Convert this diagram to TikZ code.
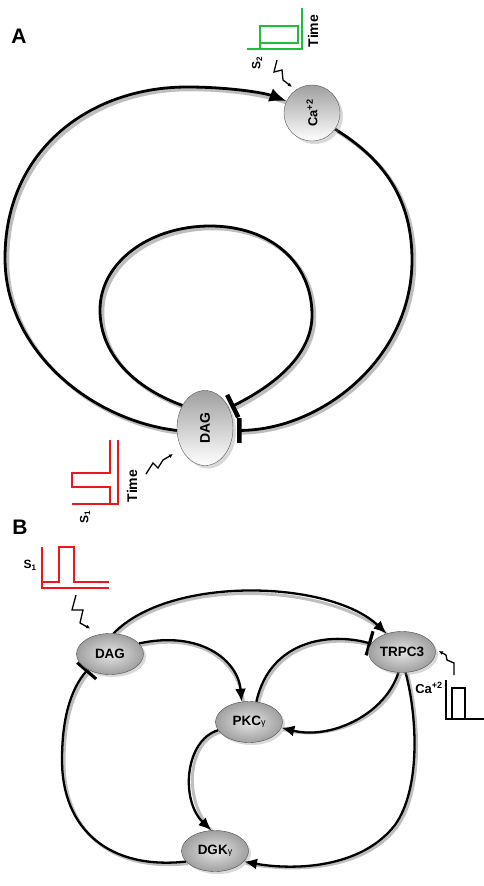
\documentclass[tikz,border=0pt]{standalone}
\usepackage{fontspec}
\setmainfont{Liberation Sans}
\usepackage{tikz}
\usetikzlibrary{shapes, arrows.meta, positioning, calc, shadows, backgrounds}
\definecolor{sigred}{RGB}{240, 20, 30}
\definecolor{siggreen}{RGB}{30, 190, 60}
\definecolor{shadowgray}{RGB}{190, 190, 190}

\begin{document}
\begin{tikzpicture}[x=1pt, y=1pt, font=\bfseries,
    loopA/.style={line width=2.8pt, preaction={draw=shadowgray, line width=3.5pt, -, transform canvas={shift={(2.5pt,-2.5pt)}}}},
    linkB/.style={line width=2.3pt, preaction={draw=shadowgray, line width=3pt, -, transform canvas={shift={(2pt,-2pt)}}}},
    actA/.style={-{Latex[length=17pt, width=14pt]}},
    inhA/.style={-{Bar[width=25pt, line width=4.5pt]}},
    actB/.style={-{Latex[length=13pt, width=11pt]}},
    inhB/.style={-{Bar[width=25pt, line width=3.2pt]}},
    nodeA/.style={draw=gray!70!black, thin, top color=gray!75, bottom color=white, inner sep=0pt,
      drop shadow={shadow xshift=3pt, shadow yshift=-3pt, opacity=0.3}},
    nodeB/.style={ellipse, draw=gray!60!black, thin, inner color=gray!20, outer color=gray!75,
      minimum width=67pt, minimum height=41pt, inner sep=0pt, font=\fontsize{13.5}{13.5}\selectfont\bfseries,
      drop shadow={shadow xshift=2.5pt, shadow yshift=-2.5pt, opacity=0.3}},
    zig/.style={line width=1.3pt, -{Latex[length=4pt, width=4pt]}},
    sigline/.style={line width=1.4pt},
    tag/.style={font=\fontsize{14}{14}\selectfont\bfseries, inner sep=0pt},
  ]
  \useasboundingbox (0,0) rectangle (484,-886);

  % ---------- panel A ----------
  \node[font=\fontsize{21}{21}\selectfont\bfseries] (labA) at (19,-36) {A};
  \node[nodeA, circle, minimum size=56pt] (caA) at (312,-113)
    {\rotatebox{90}{\fontsize{13}{13}\selectfont Ca\textsuperscript{+2}}};
  \node[nodeA, ellipse, minimum width=56pt, minimum height=75pt] (dagA) at (205,-428)
    {\rotatebox{90}{\fontsize{14}{14}\selectfont DAG}};

  \begin{scope}[on background layer]
    \draw[loopA, actA] (dagA.185) .. controls (90,-420) and (5,-350) .. (5,-258)
      .. controls (5,-150) and (90,-87) .. (187,-87)
      .. controls (230,-87) and (265,-93) .. (caA.155);
    \draw[loopA, inhA, shorten >=4pt] (caA.-35) .. controls (385,-160) and (412,-200) .. (412,-260)
      .. controls (412,-360) and (320,-430) .. (dagA.-5);
    \draw[loopA, inhA, shorten >=2pt] (dagA.135) .. controls (135,-388) and (100,-355) .. (100,-310)
      .. controls (100,-262) and (150,-226) .. (210,-226)
      .. controls (270,-226) and (312,-262) .. (312,-315)
      .. controls (312,-355) and (275,-385) .. (dagA.40);
  \end{scope}

  % stimulus S2
  \draw[siggreen, sigline] (247,-49) -- (302,-49) -- (302,-8);
  \draw[siggreen, sigline] (260,-49) -- (260,-26) -- (298,-26) -- (298,-43) -- (260,-43);
  \node[tag, rotate=90] (timeS2) at (313,-31) {Time};
  \node[tag, rotate=90, font=\fontsize{12}{12}\selectfont\bfseries] (lblS2) at (257,-63) {S\textsubscript{2}};
  \coordinate (s2A) at (277,-60);
  \draw[zig, shorten >=5pt] (s2A) -- ++(-3,-12) -- ++(8,2) -- ++(1,-10) -- (caA.125);

  % stimulus S1
  \draw[sigred, sigline] (72,-504) -- (118,-504) -- (118,-440);
  \draw[sigred, sigline] (110,-440) -- (110,-473) -- (72,-473) -- (72,-487) -- (110,-487) -- (110,-504);
  \node[tag, rotate=90] (timeS1) at (132,-486) {Time};
  \node[tag, rotate=90, font=\fontsize{12}{12}\selectfont\bfseries] (lblS1A) at (85,-517) {S\textsubscript{1}};
  \coordinate (s1A) at (146,-474);
  \draw[zig, shorten >=10pt] (s1A) -- ++(7,11) -- ++(5,-5) -- ++(5,8) -- (dagA.222);

  % ---------- panel B ----------
  \node[font=\fontsize{21}{21}\selectfont\bfseries] (labB) at (20,-527) {B};
  \node[nodeB] (dagB) at (110,-654) {DAG};
  \node[nodeB] (trpc) at (402,-652) {TRPC3};
  \node[nodeB] (pkc) at (249,-722) {PKC{\fontsize{9}{9}\selectfont\mdseries γ}};
  \node[nodeB] (dgk) at (215,-851) {DGK{\fontsize{9}{9}\selectfont\mdseries γ}};

  \begin{scope}[on background layer]
    \draw[linkB, actB] (dagB.80) .. controls (170,-575) and (330,-580) .. (trpc.130);
    \draw[linkB, actB] (dagB.20) .. controls (200,-630) and (238,-660) .. (pkc.110);
    \draw[linkB, inhB] (pkc.70) .. controls (270,-640) and (330,-632) .. (trpc.165);
    \draw[linkB, actB] (trpc.-100) .. controls (385,-715) and (330,-740) .. (pkc.-10);
    \draw[linkB, actB] (trpc.-80) .. controls (418,-720) and (420,-790) .. (395,-825)
      .. controls (360,-870) and (290,-870) .. (dgk.-20);
    \draw[linkB, actB] (pkc.195) .. controls (185,-740) and (180,-800) .. (dgk.100);
    \draw[linkB, inhB] (dgk.200) .. controls (110,-870) and (62,-830) .. (62,-760)
      .. controls (62,-720) and (70,-690) .. (dagB.-145);
  \end{scope}

  % stimulus S1 (B)
  \draw[sigred, sigline] (42,-547) -- (42,-588) -- (109,-588);
  \draw[sigred, sigline] (42,-582) -- (59,-582) -- (59,-547) -- (74,-547) -- (74,-582) -- (109,-582);
  \node[tag, font=\fontsize{12}{12}\selectfont\bfseries] (lblS1B) at (30,-565) {S\textsubscript{1}};
  \coordinate (s1B) at (76,-595);
  \draw[zig, shorten >=12pt] (s1B) -- ++(-4,-15) -- ++(11,0) -- ++(-3,-13) -- (dagB.115);

  % Ca+2 input (B)
  \draw[sigline] (446,-680) -- (446,-719) -- (484,-719);
  \draw[sigline] (452,-719) -- (452,-688) -- (465,-688) -- (465,-719);
  \node[tag, font=\fontsize{13}{13}\selectfont\bfseries] (lblCaB) at (429,-688) {Ca\textsuperscript{+2}};
  \coordinate (caB) at (454,-675);
  \draw[zig, shorten >=4pt] (caB) -- ++(0,12) -- ++(-7,3) -- ++(-1,5) -- (trpc.5);
\end{tikzpicture}
\end{document}
